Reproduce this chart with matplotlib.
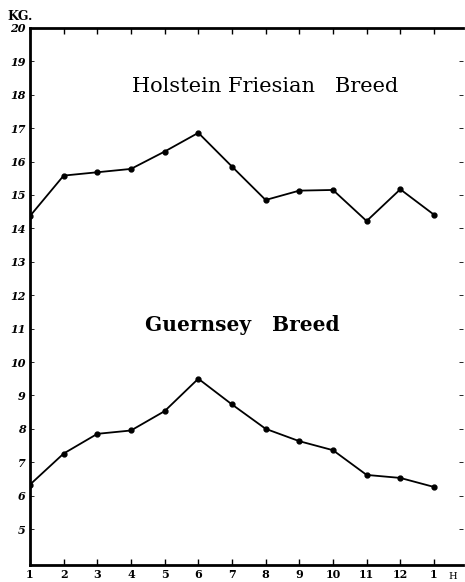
import matplotlib
matplotlib.use("Agg")
from matplotlib import pyplot as plt

# months (1..12, then 1 again)
months = [1, 2, 3, 4, 5, 6, 7, 8, 9, 10, 11, 12, 13]
month_labels = ["1", "2", "3", "4", "5", "6", "7", "8", "9", "10", "11", "12", "1"]

# kg per day
holstein = [14.37, 15.58, 15.68, 15.78, 16.30, 16.86, 15.85, 14.85, 15.13, 15.15, 14.22, 15.17, 14.41]
guernsey = [6.33, 7.26, 7.85, 7.95, 8.53, 9.50, 8.73, 8.00, 7.63, 7.36, 6.62, 6.53, 6.26]

yticks = [5, 6, 7, 8, 9, 10, 11, 12, 13, 14, 15, 16, 17, 18, 19, 20]

fig = plt.figure(figsize=(4.65, 5.82), dpi=100)
fig.set_facecolor("white")
ax = fig.add_axes([0.0645, 0.029, 0.931, 0.923])

for series in (holstein, guernsey):
    ax.plot(months, series, color="black", linewidth=1.3, marker="o", markersize=3.5)

ax.set_xlim(1, 13.86)
ax.set_ylim(3.92, 20)

ax.set_xticks(months)
ax.set_xticklabels(month_labels, fontsize=8, fontweight="bold", family="DejaVu Serif")
ax.set_yticks(yticks)
ax.set_yticklabels([str(v) for v in yticks], fontsize=8, fontweight="bold",
                   fontstyle="italic", family="DejaVu Serif")
ax.tick_params(axis="both", direction="in", length=4, width=1, pad=3)
ax.tick_params(axis="y", right=True, length=3, width=0.6)
ax.tick_params(axis="x", top=True)

ax.spines["left"].set_linewidth(2)
ax.spines["bottom"].set_linewidth(2)
ax.spines["top"].set_linewidth(2)
ax.spines["right"].set_visible(False)

# axis unit and stray label at the end of the month axis
fig.text(0.017, 0.966, "KG.", fontsize=9, fontweight="bold", family="DejaVu Serif")
ax.text(13.55, -0.012, "H", transform=ax.get_xaxis_transform(), fontsize=7,
        va="top", ha="center", family="DejaVu Serif")

ax.text(7.98, 18.25, "Holstein Friesian   Breed", fontsize=15,
        ha="center", va="center", family="DejaVu Serif")
ax.text(7.3, 11.1, "Guernsey   Breed", fontsize=14.5, fontweight="bold", ha="center",
        va="center", family="DejaVu Serif")

fig.savefig("out.png", dpi=100)
